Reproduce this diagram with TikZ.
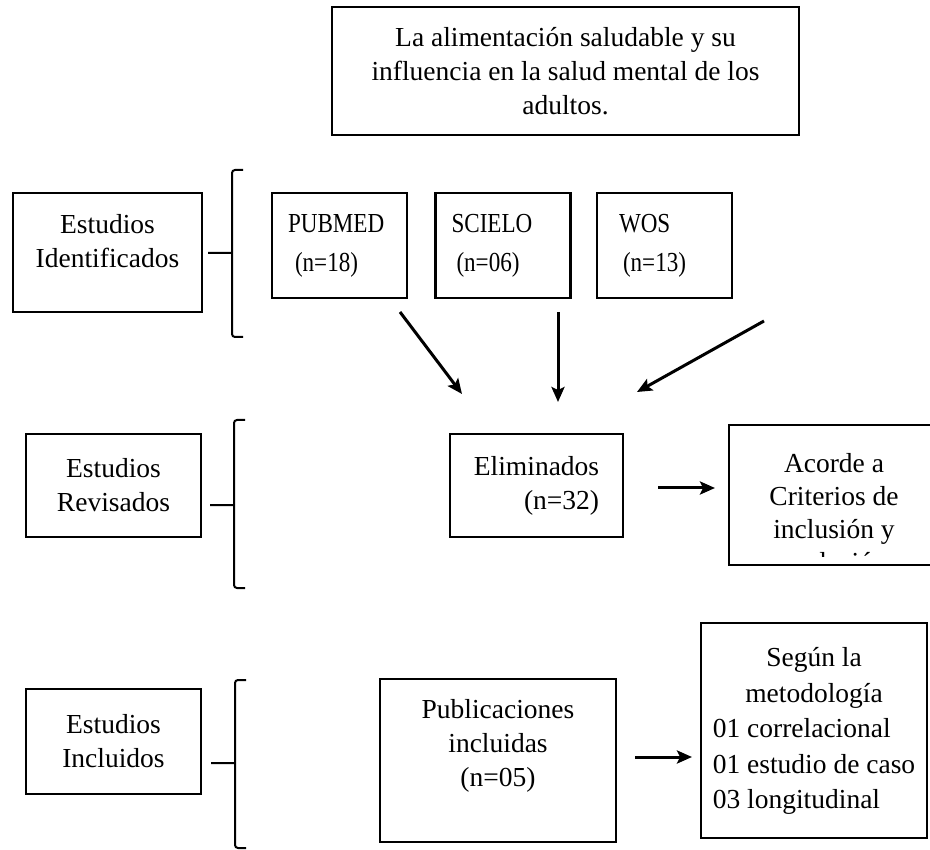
\documentclass[tikz,border=0pt]{standalone}
\usepackage{fontspec}
\setmainfont{Liberation Serif}
\usetikzlibrary{arrows.meta}

\begin{document}
\begin{tikzpicture}[x=1pt,y=-1pt,->,>={Stealth[length=15pt,width=13pt,inset=3pt]},line width=3pt,
  font=\fontsize{27.5}{34}\selectfont,
  main box/.style={-,draw,line width=2.7pt,inner sep=0pt,align=center},
  src box/.style={main box,minimum width=135pt,minimum height=105pt,text width=103pt,inner xsep=16pt,align=left,
    font=\fontsize{27.5}{39}\selectfont\addfontfeature{FakeStretch=0.84}},
  brace/.style={-,line width=2pt,rounded corners=3pt}]
  \useasboundingbox (0,0) rectangle (930,850);

  \node[main box,minimum width=467pt,minimum height=128pt] (title) at (565.5,71) {La alimentación saludable y su\\influencia en la salud mental de los\\adultos.};

  % etapas
  \node[main box,minimum width=189pt,minimum height=119pt] (ident) at (107.5,252.5) {Estudios\\Identificados\rule[-24pt]{0pt}{0pt}};
  \node[main box,minimum width=175pt,minimum height=103pt] (revis) at (113.5,485.5) {Estudios\\Revisados};
  \node[main box,minimum width=175pt,minimum height=105pt] (inclu) at (113.5,741.5) {Estudios\\Incluidos};

  \foreach \x/\t/\m/\b in {232/170/253/337,234/420/505/588,235/680/763/848}
    \draw[brace] (\x+11,\t) -- (\x,\t) -- (\x,\b) -- (\x+11,\b) (\x-24,\m) -- (\x,\m);

  % bases de datos
  \node[src box] (pubmed) at (339.5,245.5) {PUBMED\\\hspace*{7pt}(n=18)};
  \node[src box] (scielo) at (503,245.5) {SCIELO\\\hspace*{5pt}(n=06)};
  \node[src box] (wos) at (664.5,245.5) {\hspace*{6pt}WOS\\\hspace*{10pt}(n=13)};

  \node[main box,minimum width=173pt,minimum height=103pt,align=right] (elim) at (536.5,485.5) {Eliminados\\(n=32)};
  \node[main box,minimum width=210pt,minimum height=140pt] (acorde) at (834,495) {};
  \begin{scope}
    \clip ([shift={(2pt,-2pt)}]acorde.north west) rectangle ([shift={(-2pt,10pt)}]acorde.south east);
    \node[align=center,font=\fontsize{27.5}{33}\selectfont] (acordetxt) at (834,513) {Acorde a\\Criterios de\\inclusión y\\exclusión};
  \end{scope}

  \node[main box,minimum width=236pt,minimum height=163pt] (public) at (498,760.5) {Publicaciones\\incluidas\\(n=05)\rule[-36pt]{0pt}{0pt}};
  \node[main box,minimum width=226pt,minimum height=215pt,font=\fontsize{27.5}{35.5}\selectfont] (segun) at (814,730.5)
    {\begin{tabular}{@{}l@{}}\multicolumn{1}{@{}c@{}}{Según la}\\\multicolumn{1}{@{}c@{}}{metodología}\\01 correlacional\\01 estudio de caso\\03 longitudinal\end{tabular}};

  \coordinate (a1) at (400,312);
  \coordinate (b1) at (462,394);
  \coordinate (a2) at (558,312);
  \coordinate (b2) at (558,402);
  \coordinate (a3) at (764,321);
  \coordinate (b3) at (637,392);
  \coordinate (e1) at (658,488);
  \coordinate (e2) at (715,488);
  \coordinate (p1) at (635,757);
  \coordinate (p2) at (692,757);

  \path
  (a1) edge (b1)
  (a2) edge (b2)
  (a3) edge (b3)
  (e1) edge (e2)
  (p1) edge (p2)
  ;
\end{tikzpicture}
\end{document}
